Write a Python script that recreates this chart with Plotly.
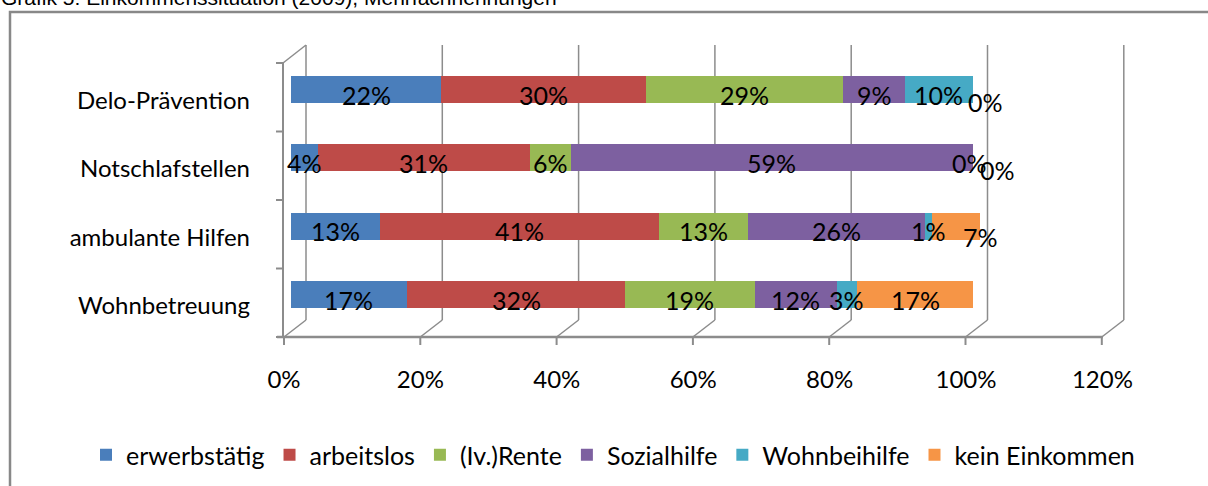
import plotly.graph_objects as go

W, H = 1208, 486

# ---------------- data ----------------
categories = ["Delo-Prävention", "Notschlafstellen", "ambulante Hilfen", "Wohnbetreuung"]
series_names = ["erwerbstätig", "arbeitslos", "(Iv.)Rente", "Sozialhilfe", "Wohnbeihilfe", "kein Einkommen"]
erwerbstaetig = [22, 4, 13, 17]
arbeitslos = [30, 31, 41, 32]
rente = [29, 6, 13, 19]
sozialhilfe = [9, 59, 26, 12]
wohnbeihilfe = [10, 0, 1, 3]
kein_einkommen = [0, 0, 7, 17]
x_tick_values = [0, 20, 40, 60, 80, 100, 120]
x_tick_labels = ["0%", "20%", "40%", "60%", "80%", "100%", "120%"]
title_text = "Grafik 5: Einkommenssituation (2009), Mehrfachnennungen"

series_values = [erwerbstaetig, arbeitslos, rente, sozialhilfe, wohnbeihilfe, kein_einkommen]
colors = ["#4A7EBB", "#BE4B48", "#98B954", "#7D60A0", "#46AAC5", "#F69546"]

# ---------------- geometry (pixels) ----------------
PL, PR = 283, 1130          # plot area left/right
PT, PB = 40, 337            # plot area top/bottom (front floor)
BAR0, PXPCT = 291, 6.82     # bar axis: pixel of 0 %, pixels per %
FRONT0, BACK0, DXP = 284, 306, 6.815
BACK_TOP, BACK_FLOOR = 45, 320
CAT_CENTER0, CAT_STEP = 294.5, 68.33   # bottom category centre, spacing

def px(x):
    return x / W

def py(y):
    return 1 - y / H

cat_order = list(reversed(categories))  # bottom -> top
y_lo = -(PB - CAT_CENTER0) / CAT_STEP
y_hi = 3 + (CAT_CENTER0 - 3 * CAT_STEP - PT) / CAT_STEP

font_main = "Lato"
grey = "#8C8C8C"

fig = go.Figure()
for name, vals, col in zip(series_names, series_values, colors):
    fig.add_trace(go.Bar(
        y=categories, x=vals, name=name, orientation="h",
        marker=dict(color=col, line=dict(width=0)),
        width=27 / CAT_STEP, xaxis="x", yaxis="y",
        hoverinfo="x+y+name",
    ))

# ---------------- data labels ----------------
label_nudge = {  # (category, series) -> (dx px, dy px)
    ("Delo-Prävention", "kein Einkommen"): (12, -7),
    ("Notschlafstellen", "Wohnbeihilfe"): (-4, 0),
    ("Notschlafstellen", "kein Einkommen"): (24, -7),
    ("ambulante Hilfen", "kein Einkommen"): (25, -6),
}
annotations = []
for ci, cat in enumerate(categories):
    cum = 0
    for name, vals in zip(series_names, series_values):
        v = vals[ci]
        mid = cum + v / 2
        cum += v
        dx, dy = label_nudge.get((cat, name), (0, 0))
        annotations.append(dict(
            x=mid, y=cat, xref="x", yref="y", text=f"{v}%", showarrow=False,
            font=dict(family=font_main, size=25, color="black"),
            xshift=dx, yshift=-5 + dy,
        ))

annotations.append(dict(
    x=px(-1), y=py(11), xref="paper", yref="paper", text=title_text,
    showarrow=False, xanchor="left", yanchor="bottom",
    font=dict(family="Liberation Sans, Arial", size=21, color="black"),
))

# ---------------- 3D frame shapes ----------------
shapes = []
line_style = dict(color=grey, width=1.5)
for v in x_tick_values:
    bx = BACK0 + DXP * v
    fx = FRONT0 + DXP * v
    shapes.append(dict(type="line", xref="paper", yref="paper",
                       x0=px(bx), x1=px(bx), y0=py(BACK_TOP), y1=py(BACK_FLOOR),
                       line=line_style, layer="below"))
    shapes.append(dict(type="line", xref="paper", yref="paper",
                       x0=px(fx), x1=px(bx), y0=py(PB), y1=py(BACK_FLOOR),
                       line=line_style, layer="below"))
    shapes.append(dict(type="line", xref="paper", yref="paper",
                       x0=px(fx), x1=px(fx), y0=py(PB), y1=py(PB + 8),
                       line=dict(color=grey, width=2), layer="below"))
# floor front line
shapes.append(dict(type="line", xref="paper", yref="paper",
                   x0=px(PL - 6), x1=px(FRONT0 + DXP * x_tick_values[-1] + 1),
                   y0=py(PB), y1=py(PB),
                   line=dict(color=grey, width=2.5), layer="below"))
# left front axis
front_top = 63
shapes.append(dict(type="line", xref="paper", yref="paper",
                   x0=px(PL), x1=px(PL), y0=py(front_top), y1=py(PB),
                   line=dict(color=grey, width=2), layer="below"))
shapes.append(dict(type="line", xref="paper", yref="paper",
                   x0=px(PL), x1=px(BACK0), y0=py(front_top), y1=py(BACK_TOP),
                   line=line_style, layer="below"))
for k in range(len(categories) + 1):
    yy = front_top + k * (PB - front_top) / len(categories)
    shapes.append(dict(type="line", xref="paper", yref="paper",
                       x0=px(PL - 7), x1=px(PL), y0=py(yy), y1=py(yy),
                       line=dict(color=grey, width=2), layer="below"))
# outer chart border
shapes.append(dict(type="rect", xref="paper", yref="paper",
                   x0=px(10), x1=px(W + 20), y0=py(12), y1=py(H + 20),
                   line=dict(color="#888888", width=2.5), fillcolor="rgba(0,0,0,0)",
                   layer="below"))

fig.update_layout(
    width=W, height=H,
    margin=dict(l=0, r=0, t=0, b=0, autoexpand=False),
    paper_bgcolor="white", plot_bgcolor="rgba(0,0,0,0)",
    barmode="stack",
    showlegend=True,
    xaxis=dict(
        domain=[px(PL), px(PR)],
        range=[(PL - BAR0) / PXPCT, (PR - BAR0) / PXPCT],
        showgrid=False, zeroline=False, showline=False,
        tickmode="array", tickvals=x_tick_values, ticktext=x_tick_labels,
        ticks="", ticklabelshift=-(BAR0 - FRONT0), ticklabelstandoff=26,
        tickfont=dict(family=font_main, size=24, color="black"),
        automargin=False, fixedrange=True,
    ),
    yaxis=dict(
        domain=[py(PB), py(PT)],
        type="category", categoryorder="array", categoryarray=cat_order,
        range=[y_lo, y_hi],
        showgrid=False, zeroline=False, showline=False, ticks="",
        tickfont=dict(family=font_main, size=24, color="black"),
        ticklabelshift=11, ticklabelstandoff=32,
        automargin=False, fixedrange=True,
    ),
    legend=dict(
        orientation="h", xref="container", yref="container",
        x=px(613), xanchor="center", y=py(455), yanchor="middle",
        font=dict(family=font_main, size=25, color="black"),
        bgcolor="rgba(0,0,0,0)", traceorder="normal",
    ),
    annotations=annotations,
    shapes=shapes,
)

fig.write_html(
    "out.html",
    config={"displayModeBar": False},
    post_script="document.body.style.margin='0';document.body.style.overflow='hidden';",
)
